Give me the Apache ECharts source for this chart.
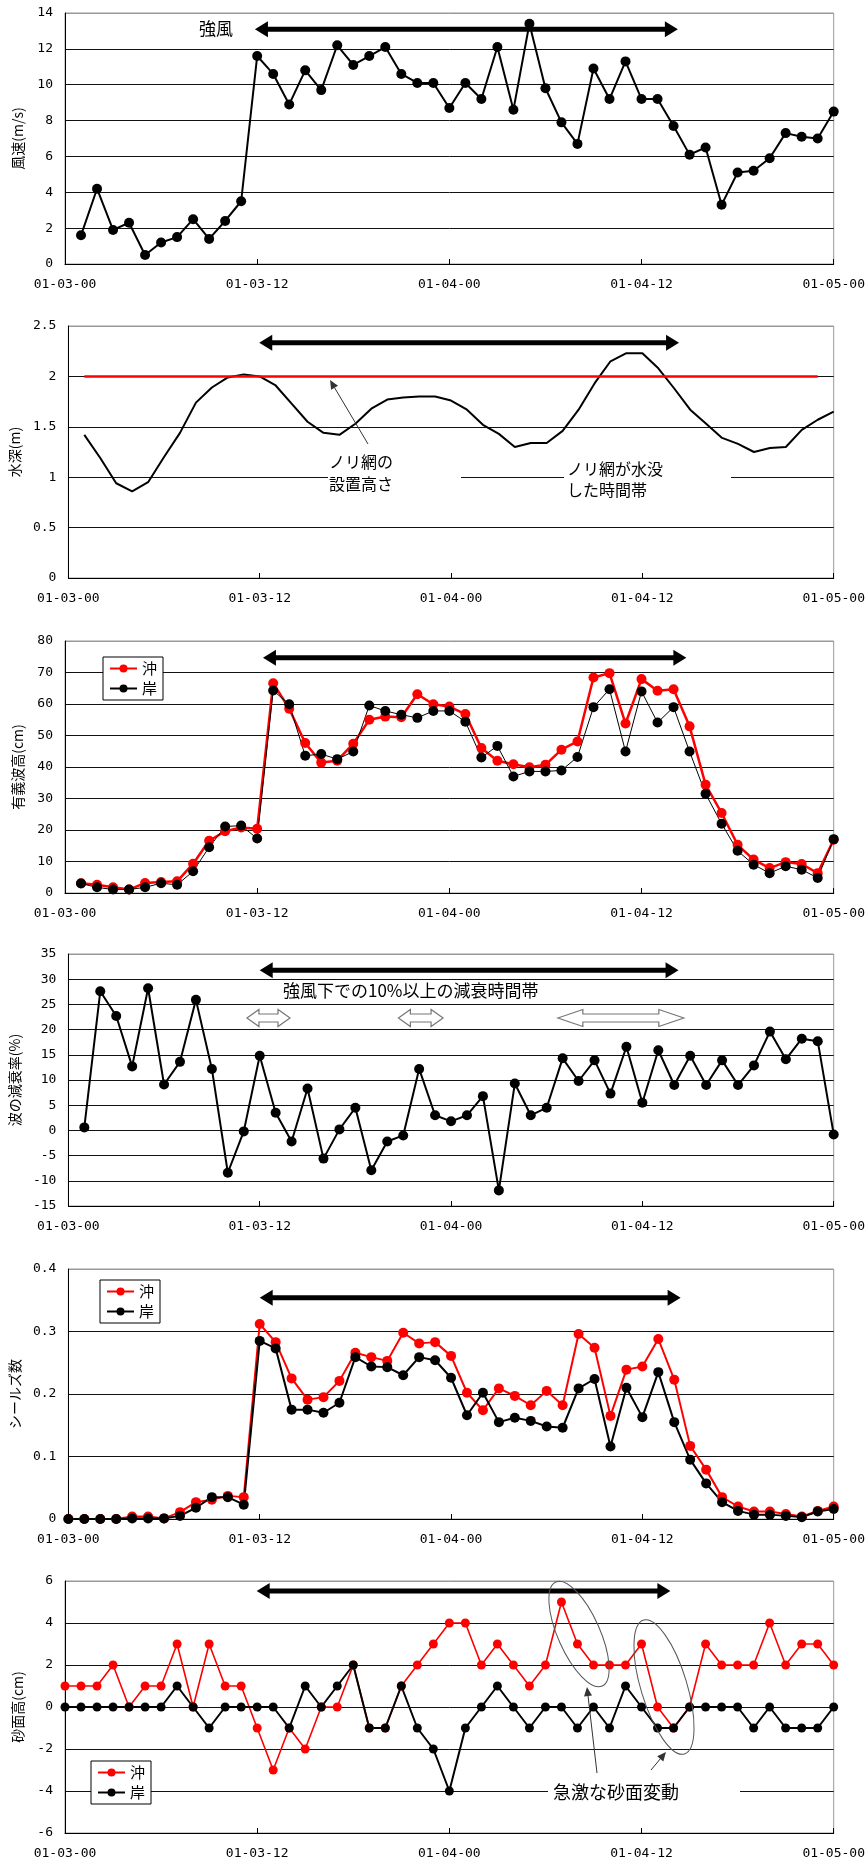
<!DOCTYPE html>
<html><head><meta charset="utf-8">
<script src="https://cdn.jsdelivr.net/npm/echarts@6/dist/echarts.min.js"></script>
<style>html,body{margin:0;padding:0;background:#fff}#c{width:868px;height:1861px}</style>
</head><body><div id="c"></div>
<script>
// ---------- data ----------
const xTickLabels = ['01-03-00','01-03-12','01-04-00','01-04-12','01-05-00'];
// hourly values, first value at hour 1
const windSpeed = [1.6,4.2,1.9,2.3,0.5,1.2,1.5,2.5,1.4,2.4,3.5,11.6,10.6,8.9,10.8,9.7,12.2,11.1,11.6,12.1,10.6,10.1,10.1,8.7,10.1,9.2,12.1,8.6,13.4,9.8,7.9,6.7,10.9,9.2,11.3,9.2,9.2,7.7,6.1,6.5,3.3,5.1,5.2,5.9,7.3,7.1,7.0,8.5];
const waterDepth = [1.42,1.19,0.94,0.86,0.95,1.20,1.44,1.74,1.89,1.99,2.02,2.00,1.91,1.73,1.55,1.44,1.42,1.53,1.68,1.77,1.79,1.80,1.80,1.76,1.67,1.52,1.43,1.30,1.34,1.34,1.46,1.67,1.93,2.15,2.23,2.23,2.08,1.88,1.67,1.53,1.39,1.33,1.25,1.29,1.30,1.47,1.57,1.65];
const netHeightHours = [1, 47];
const netHeightValues = [2.0, 2.0];
const waveOff = [3.1,2.6,1.8,1.1,3.2,3.5,3.7,9.3,16.6,19.6,20.8,20.4,66.6,58.5,47.6,41.4,42.0,47.4,55.0,56.0,55.8,63.1,59.9,59.2,56.8,46.0,42.0,40.9,39.9,40.7,45.5,48.1,68.4,69.8,53.8,67.9,64.2,64.7,52.9,34.4,25.4,15.3,10.6,7.9,9.8,9.2,6.3,16.9];
const waveShore = [3.0,1.8,1.1,1.1,1.8,3.1,2.6,6.9,14.5,21.1,21.4,17.3,64.3,59.9,43.6,44.1,42.5,44.9,59.5,57.8,56.6,55.6,57.8,57.8,54.4,43.0,46.7,37.0,38.6,38.6,38.9,43.2,59.0,64.7,44.9,64.0,54.1,59.0,44.9,31.5,22.0,13.4,9.0,6.3,8.5,7.4,4.8,17.1];
const attenuation = [0.6,27.6,22.7,12.7,28.2,9.1,13.6,25.9,12.2,-8.4,-0.2,14.8,3.5,-2.2,8.3,-5.6,0.2,4.5,-7.9,-2.2,-1.0,12.2,3.0,1.8,3.0,6.8,-11.9,9.3,3.0,4.5,14.3,9.8,13.9,7.3,16.6,5.5,15.9,9.0,14.8,9.0,13.9,9.0,12.9,19.6,14.1,18.2,17.7,-0.8];
// hourly values, first value at hour 0
const shieldsOff = [0,0,0,0,0.004,0.004,0.001,0.011,0.027,0.031,0.037,0.035,0.312,0.283,0.225,0.191,0.195,0.221,0.266,0.259,0.253,0.298,0.281,0.283,0.261,0.202,0.174,0.209,0.197,0.182,0.205,0.182,0.296,0.274,0.165,0.239,0.244,0.288,0.223,0.117,0.079,0.035,0.020,0.012,0.012,0.008,0.004,0.013,0.020];
const shieldsShore = [0,0,0,0,0.001,0.001,0.001,0.005,0.018,0.035,0.035,0.023,0.285,0.273,0.175,0.175,0.170,0.186,0.259,0.244,0.243,0.230,0.259,0.254,0.226,0.166,0.202,0.155,0.162,0.157,0.148,0.146,0.209,0.224,0.116,0.210,0.163,0.235,0.155,0.095,0.057,0.027,0.013,0.007,0.007,0.005,0.003,0.012,0.016];
const sandOff = [1,1,1,2,0,1,1,3,0,3,1,1,-1,-3,-1,-2,0,0,2,-1,-1,1,2,3,4,4,2,3,2,1,2,5,3,2,2,2,3,0,-1,0,3,2,2,2,4,2,3,3,2];
const sandShore = [0,0,0,0,0,0,0,1,0,-1,0,0,0,0,-1,1,0,1,2,-1,-1,1,-1,-2,-4,-1,0,1,0,-1,0,0,-1,0,-1,1,0,-1,-1,0,0,0,0,-1,0,-1,-1,-1,0];

const yNames = ['風速(m/s)','水深(m)','有義波高(cm)','波の減衰率(%)','シールズ数','砂面高(cm)'];
const yRanges = [[0,14,2],[0,2.5,0.5],[0,80,10],[-15,35,5],[0,0.4,0.1],[-6,6,2]];

// ---------- chart ----------
const pts = (start, arr) => arr.map((v, i) => [start + i, v]);
const MONO = '"DejaVu Sans Mono", monospace';
const JP = '"Noto Sans CJK JP", sans-serif';

const gridBoxes = [
  {top:13, height:251, width:770},
  {top:326, height:252, width:770},
  {top:641, height:252, width:770},
  {top:954, height:252, width:770},
  {top:1269, height:250, width:770},
  {top:1581, height:252, width:780}
];
const grid = gridBoxes.map(g => Object.assign({left:65, show:true, borderColor:'#999', borderWidth:1, backgroundColor:'#fff'}, g));

const xAxis = grid.map((g, i) => ({
  gridIndex:i, type:'value', min:0, max:48, interval:12,
  axisLine:{onZero:false, lineStyle:{color:'#000', width:1}},
  axisTick:{show:true, inside:true, length:5, lineStyle:{color:'#000'}},
  axisLabel:{margin:14, fontFamily:MONO, fontSize:13, color:'#000',
    showMinLabel:true, showMaxLabel:true,
    formatter: v => xTickLabels[Math.round(v / 12)]},
  splitLine:{show:false}
}));

const yAxis = yRanges.map((r, i) => {
  const n = Math.round((r[1] - r[0]) / r[2]) + 1;
  const cols = Array(n).fill('#111'); cols[n - 1] = '#999';
  return {
    gridIndex:i, type:'value', min:r[0], max:r[1], interval:r[2],
    name:yNames[i], nameLocation:'middle', nameGap:40,
    nameTextStyle:{fontFamily:JP, fontSize:14, color:'#000'},
    axisLine:{show:true, onZero:false, lineStyle:{color:'#000', width:1}},
    axisTick:{show:false},
    axisLabel:{margin:12, fontFamily:MONO, fontSize:13, color:'#000'},
    splitLine:{show:true, lineStyle:{color:cols, width:1}}
  };
});

function line(name, gi, data, color, width, symSize) {
  return {
    name, type:'line', xAxisIndex:gi, yAxisIndex:gi, data,
    symbol: symSize ? 'circle' : 'none', symbolSize: symSize || 0,
    showSymbol: !!symSize,
    itemStyle:{color}, lineStyle:{color, width},
    emphasis:{disabled:true}, animation:false, silent:true
  };
}

const series = [
  line('wind', 0, pts(1, windSpeed), '#000', 2, 10),
  line('depth', 1, pts(1, waterDepth), '#000', 2, 0),
  line('net', 1, netHeightHours.map((h, i) => [h, netHeightValues[i]]), '#ff0000', 2.5, 0),
  line('沖', 2, pts(1, waveOff), '#ff0000', 2.5, 10),
  line('岸', 2, pts(1, waveShore), '#000', 1, 10),
  line('att', 3, pts(1, attenuation), '#000', 2, 10),
  line('沖 ', 4, pts(0, shieldsOff), '#ff0000', 2, 10),
  line('岸 ', 4, pts(0, shieldsShore), '#000', 2, 10),
  line('沖  ', 5, pts(0, sandOff), '#ff0000', 1.6, 9),
  line('岸  ', 5, pts(0, sandShore), '#000', 2, 9)
];

function legendAt(left, top, names) {
  return {
    data:names, left, top, orient:'vertical', itemWidth:27, itemHeight:10, itemGap:5,
    padding:[4,6,4,6], borderColor:'#000', borderWidth:1, backgroundColor:'#fff',
    textStyle:{fontFamily:JP, fontSize:15, color:'#000'}, selectedMode:false,
    formatter: n => n.trim()
  };
}

const chart = echarts.init(document.getElementById('c'), null, {renderer:'canvas'});
chart.setOption({
  animation:false,
  grid, xAxis, yAxis, series,
  legend:[
    legendAt(103, 657, ['沖','岸']),
    legendAt(100, 1280, ['沖 ','岸 ']),
    legendAt(91, 1761, ['沖  ','岸  '])
  ]
});

// ---------- annotations ----------
const P = (g, x, y) => chart.convertToPixel({gridIndex:g}, [x, y]);
const els = [];
function bigArrow(g, h1, h2, v) {
  const a = P(g, h1, v), b = P(g, h2, v);
  const head = 13, hw = 8, y = a[1];
  els.push({type:'line', z:100, shape:{x1:a[0] + head - 1, y1:y, x2:b[0] - head + 1, y2:y}, style:{stroke:'#000', lineWidth:5}});
  els.push({type:'polygon', z:100, shape:{points:[[a[0], y], [a[0] + head, y - hw], [a[0] + head, y + hw]]}, style:{fill:'#000'}});
  els.push({type:'polygon', z:100, shape:{points:[[b[0], y], [b[0] - head, y - hw], [b[0] - head, y + hw]]}, style:{fill:'#000'}});
}
function hollowArrow(g, h1, h2, v, head) {
  const a = P(g, h1, v), b = P(g, h2, v);
  const y = a[1], x1 = a[0], x2 = b[0], H = 8.5, S = 4;
  els.push({type:'polygon', z:100, shape:{points:[
    [x1, y], [x1 + head, y - H], [x1 + head, y - S], [x2 - head, y - S], [x2 - head, y - H],
    [x2, y], [x2 - head, y + H], [x2 - head, y + S], [x1 + head, y + S], [x1 + head, y + H]]},
    style:{fill:'#fff', stroke:'#777', lineWidth:1.2}});
}
function thinArrow(x1, y1, x2, y2) {
  const dx = x2 - x1, dy = y2 - y1, L = Math.hypot(dx, dy), ux = dx / L, uy = dy / L;
  const hl = 9, hw = 4;
  const bx = x2 - ux * hl, by = y2 - uy * hl;
  els.push({type:'line', z:100, shape:{x1, y1, x2:bx, y2:by}, style:{stroke:'#333', lineWidth:1}});
  els.push({type:'polygon', z:100, shape:{points:[[x2, y2], [bx - uy * hw, by + ux * hw], [bx + uy * hw, by - ux * hw]]}, style:{fill:'#333'}});
}
function txt(x, y, text, size) {
  els.push({type:'text', z:101, x, y, style:{text, font:size + 'px ' + JP, fill:'#000', align:'left', verticalAlign:'middle', textAlign:'left', textVerticalAlign:'middle'}});
}
function whiteRect(x, y, w, h) {
  els.push({type:'rect', z:99, shape:{x, y, width:w, height:h}, style:{fill:'#fff'}});
}

bigArrow(0, 11.86, 38.27, 13.1);
bigArrow(1, 11.97, 38.3, 2.334);
bigArrow(2, 12.36, 38.8, 74.7);
bigArrow(3, 12.0, 38.27, 31.8);
bigArrow(4, 12.0, 38.4, 0.354);
bigArrow(5, 11.97, 37.8, 5.52);

txt(199, 29, '強風', 17);

whiteRect(328, 471, 133, 12);
whiteRect(564, 471, 167, 12);
txt(329, 462, 'ノリ網の', 16);
txt(329, 484, '設置高さ', 16);
txt(567, 469, 'ノリ網が水没', 16);
txt(567, 490, 'した時間帯', 16);
thinArrow(368, 444, 330, 380);

txt(283, 991, '強風下での10%以上の減衰時間帯', 17);
hollowArrow(3, 11.2, 13.9, 22.3, 12);
hollowArrow(3, 20.7, 23.5, 22.3, 12);
hollowArrow(3, 30.7, 38.6, 22.3, 25);

els.push({type:'ellipse', z:100, x:579, y:1634, rotation:24 * Math.PI / 180, shape:{cx:0, cy:0, rx:21, ry:57}, style:{fill:'transparent', stroke:'#555', lineWidth:1}});
els.push({type:'ellipse', z:100, x:664, y:1687, rotation:17 * Math.PI / 180, shape:{cx:0, cy:0, rx:23, ry:70}, style:{fill:'transparent', stroke:'#555', lineWidth:1}});
whiteRect(548, 1785, 192, 12);
txt(553, 1792, '急激な砂面変動', 18);
thinArrow(597, 1773, 587, 1687);
thinArrow(651, 1770, 666, 1752);

chart.setOption({graphic:{elements:els}});
</script>
</body></html>
